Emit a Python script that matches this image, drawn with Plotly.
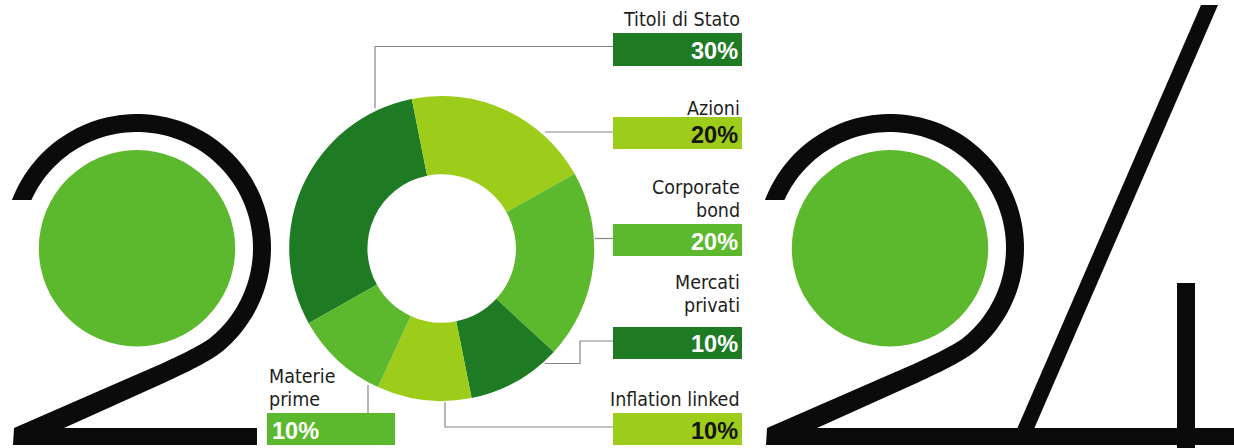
import math
import numpy as np
import plotly.graph_objects as go

W, H = 1234, 448

# Portfolio allocation (clockwise, starting with the largest block)
categories = ["Titoli di Stato", "Azioni", "Corporate\nbond", "Mercati\nprivati",
              "Inflation linked", "Materie\nprime"]
values = [30, 20, 20, 10, 10, 10]

DARK, LIGHT, MID = "#1e7b23", "#9dcc1a", "#5cb82c"
slice_colors = [DARK, LIGHT, MID, DARK, LIGHT, MID]
pct_colors = ["#ffffff", "#141414", "#ffffff", "#ffffff", "#141414", "#ffffff"]


def px(x):
    return x / W


def py(y):
    return 1 - y / H


def path_from(points, close=True):
    s = "M " + " L ".join(f"{px(x):.5f},{py(y):.5f}" for x, y in points)
    return s + (" Z" if close else "")


# ---- donut ("0" of 2024) ----
cx, cy, R = 441.7, 248.5, 152.5
total = sum(values)
fig = go.Figure(go.Pie(
    labels=[c.replace("\n", " ") for c in categories],
    values=values,
    sort=False,
    direction="clockwise",
    rotation=-119.3,
    hole=0.487,
    marker=dict(colors=slice_colors, line=dict(width=0)),
    textinfo="none",
    hoverinfo="label+percent",
    showlegend=False,
    domain=dict(x=[px(cx - R), px(cx + R)], y=[py(cy + R), py(cy - R)]),
))

shapes = []
annotations = []


# ---- the two "2" glyphs with a green disc inside ----
def edge(gx, gy, r, start_deg_y, foot_x, ref_pt, reverse=False):
    """One edge of the 2's stroke: bowl arc, smooth bend, straight foot."""
    a0 = math.pi + math.asin((gy - start_deg_y) / r)
    a1 = 2 * math.pi + math.radians(50)
    arc = [np.array([gx + r * math.cos(t), gy + r * math.sin(t)])
           for t in np.linspace(a0, a1, 90)]
    A = arc[-1]
    tA = np.array([-math.sin(a1), math.cos(a1)])
    B = np.array([foot_x, 428.0])
    d = np.array(ref_pt) - B
    d = d / np.linalg.norm(d)
    s, u = np.linalg.solve(np.column_stack([tA, -d]), B - A)
    P = A + s * tA
    D = P + (B - P) * 0.3
    bend = [(1 - t) ** 2 * A + 2 * (1 - t) * t * P + t ** 2 * D
            for t in np.linspace(0, 1, 30)[1:]]
    pts = [tuple(p) for p in arc + bend] + [tuple(B)]
    return pts[::-1] if reverse else pts


def two_glyph(gx, gy=248.0):
    outer = edge(gx, gy, 134.0, 200.0, gx - 73, (gx + 58.7, 368.5))
    inner = edge(gx, gy, 116.0, 200.0, gx - 123, (gx + 50.8, 352.3), reverse=True)
    return outer + [(gx + 120, 428), (gx + 120, 445), (gx - 124, 445)] + inner


for gx in (137.0, 890.0):
    shapes.append(dict(type="path", xref="paper", yref="paper",
                       path=path_from(two_glyph(gx)),
                       fillcolor="#0b0b0b", line=dict(width=0), layer="above"))
    r = 98.2
    shapes.append(dict(type="circle", xref="paper", yref="paper",
                       x0=px(gx - r), x1=px(gx + r), y0=py(248.3 + r), y1=py(248.3 - r),
                       fillcolor=MID, line=dict(width=0), layer="above"))

# ---- the "4" ----
slope = 0.434
top_y, bot_y = 5, 445
four_slant = [(1201, top_y), (1218, top_y),
              (1218 - slope * (bot_y - top_y), bot_y),
              (1201 - slope * (bot_y - top_y), bot_y)]
shapes.append(dict(type="path", xref="paper", yref="paper", path=path_from(four_slant),
                   fillcolor="#0b0b0b", line=dict(width=0), layer="above"))
shapes.append(dict(type="rect", xref="paper", yref="paper",
                   x0=px(1009), x1=px(1234), y0=py(445), y1=py(428),
                   fillcolor="#0b0b0b", line=dict(width=0), layer="above"))
shapes.append(dict(type="rect", xref="paper", yref="paper",
                   x0=px(1177), x1=px(1195), y0=py(448), y1=py(283),
                   fillcolor="#0b0b0b", line=dict(width=0), layer="above"))

# ---- callouts: label lines, value box, leader line ----
callouts = [
    dict(box=(613, 33, 742, 66), side="right", lines=[27], pct_base=59.5,
         leader=[(613, 46.5), (375, 46.5), (375, 108)]),
    dict(box=(613, 117, 742, 149), side="right", lines=[115], pct_base=142.5,
         leader=[(613, 132), (545, 132)]),
    dict(box=(613, 224, 742, 256), side="right", lines=[194, 217.5], pct_base=249.5,
         leader=[(613, 238.5), (595, 238.5)]),
    dict(box=(613, 327, 742, 359), side="right", lines=[289, 312.5], pct_base=352,
         leader=[(613, 341), (580, 341), (580, 363.5), (545, 363.5)]),
    dict(box=(613, 413, 742, 445), side="right", lines=[406.5], pct_base=438.5,
         leader=[(613, 427), (445, 427), (445, 402)]),
    dict(box=(267, 413, 395, 445), side="left", lines=[383, 406], pct_base=438.5,
         leader=[(368, 385), (368, 413)]),
]

LABEL_FONT = "DejaVu Sans Condensed, Roboto, sans-serif"
LABEL_SIZE = 19.5
PCT_FONT = "Liberation Sans, Arial, sans-serif"

for cat, val, col, tcol, co in zip(categories, values, slice_colors, pct_colors, callouts):
    x0, y0, x1, y1 = co["box"]
    shapes.append(dict(type="path", xref="paper", yref="paper",
                       path=path_from(co["leader"], close=False),
                       line=dict(color="#858585", width=1.2), layer="above"))
    shapes.append(dict(type="rect", xref="paper", yref="paper",
                       x0=px(x0), x1=px(x1), y0=py(y1), y1=py(y0),
                       fillcolor=col, line=dict(width=0), layer="above"))
    right = co["side"] == "right"
    tx = x1 if right else x0
    for line_text, base in zip(cat.split("\n"), co["lines"]):
        annotations.append(dict(
            text=line_text, x=px(tx), y=py(base - 7), xref="paper", yref="paper",
            xanchor="right" if right else "left", yanchor="middle", showarrow=False,
            font=dict(family=LABEL_FONT, size=LABEL_SIZE, color="#1e1e1e")))
    pct = f"{round(100 * val / total)}%"
    annotations.append(dict(
        text=f"<b>{pct}</b>", x=px(x1 - 2 if right else x0 + 3), y=py(co["pct_base"] - 8),
        xref="paper", yref="paper", xanchor="right" if right else "left",
        yanchor="middle", showarrow=False,
        font=dict(family=PCT_FONT, size=23.5, color=tcol)))

fig.update_layout(
    width=W, height=H,
    margin=dict(l=0, r=0, t=0, b=0),
    paper_bgcolor="white", plot_bgcolor="white",
    shapes=shapes, annotations=annotations,
    showlegend=False,
)

fig.write_html("out.html")
